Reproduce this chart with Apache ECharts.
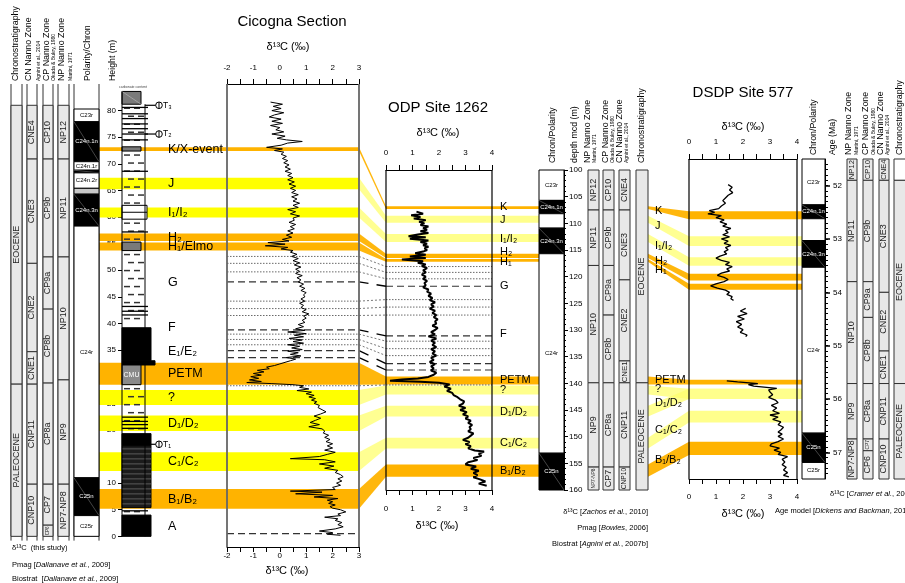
<!DOCTYPE html>
<html><head><meta charset="utf-8">
<script src="https://cdn.jsdelivr.net/npm/echarts@6/dist/echarts.min.js"></script>
<style>html,body{margin:0;padding:0;background:#fff}#c{width:905px;height:583px}</style>
</head><body><div id="c"></div>
<script>
// ================= DATA =================
// correlation events (same order for all sites)
const bandIds  = ['K','J','I','H2','H1','PETM','Q','D','C','B'];
const bandKind = ['major','minor','minor','major','major','major','minor','minor','minor','major'];
const cicBands  = [[72.4,73.1],[65.2,67.4],[59.9,61.8],[55.5,56.9],[53.7,55.2],[28.5,32.6],[24.7,27.5],[19.8,22.7],[12.3,15.8],[5.2,8.9]];
const odpBands  = [[106.8,107.3],[108.6,109.9],[112.0,113.5],[115.7,116.5],[116.7,117.2],[138.7,140.2],[140.4,142.1],[144.2,146.2],[150.2,152.2],[155.2,157.5]];
const dsdpBands = [[52.48,52.63],[52.95,53.13],[53.34,53.5],[53.65,53.78],[53.84,53.95],[55.64,55.73],[55.81,56.0],[55.81,56.0],[56.22,56.44],[56.8,57.05]];

// Cicogna section: height (m) and d13C (permil)
const cicHeight = [81.6,81.2,80.8,80.4,80.0,79.6,79.2,78.8,78.4,78.0,77.6,77.2,76.8,76.4,76.0,75.6,75.2,74.8,74.5,74.2,73.9,73.5,73.1,72.8,72.5,72.2,71.8,71.4,71.0,70.6,70.2,69.8,69.4,69.0,68.6,68.2,67.8,67.4,67.0,66.6,66.2,65.8,65.4,65.0,64.6,64.2,63.8,63.4,63.0,62.6,62.2,61.8,61.4,61.0,60.6,60.2,59.8,59.4,59.0,58.6,58.2,57.8,57.4,57.0,56.6,56.2,55.8,55.5,55.2,54.9,54.6,54.3,54.0,53.7,53.4,53.0,52.6,52.2,51.8,51.4,51.0,50.6,50.2,49.8,49.4,49.0,48.6,48.2,47.8,47.4,47.0,46.6,46.2,45.8,45.4,45.0,44.6,44.2,43.8,43.4,43.0,42.6,42.2,41.8,41.4,41.0,40.6,40.2,39.8,39.4,39.0,38.7,38.4,38.1,37.8,37.5,37.2,36.9,36.6,36.3,36.0,35.7,35.4,35.1,34.8,34.5,34.2,33.9,33.6,33.3,33.0,32.7,32.4,32.1,31.8,31.5,31.2,30.9,30.6,30.3,30.0,29.7,29.4,29.1,28.9,28.7,28.5,28.3,28.0,27.7,27.4,27.1,26.8,26.5,26.2,25.9,25.6,25.3,25.0,24.6,24.2,23.8,23.4,23.0,22.6,22.2,21.8,21.4,21.0,20.6,20.2,19.8,19.4,19.0,18.6,18.2,17.8,17.4,17.0,16.6,16.2,15.8,15.4,15.0,14.6,14.4,14.0,13.6,13.2,12.8,12.4,12.0,11.6,11.2,10.8,10.4,10.0,9.6,9.2,8.8,8.5,8.3,8.0,7.7,7.4,7.1,6.8,6.5,6.2,5.9,5.6,5.3,5.0,4.6,4.2,3.9,3.6,3.3,3.0,2.6,2.2,1.8,1.4,1.0,0.7,0.4,0.2];
const cicD13C = [-0.35,0.1,-0.25,0.05,-0.3,0.15,-0.2,-0.4,0.05,-0.3,0.1,-0.35,0.0,-0.15,0.15,-0.3,0.2,-0.1,0.25,0.85,0.3,0.05,-0.5,0.1,-0.2,0.15,0.05,0.25,0.1,0.3,0.15,0.35,0.2,0.4,0.2,0.45,0.3,0.5,0.3,0.55,0.35,0.6,0.4,0.6,0.45,0.7,0.45,0.65,0.5,0.75,0.5,0.7,0.3,0.6,0.4,0.75,0.5,0.55,0.35,0.6,0.4,0.55,0.3,0.5,0.25,0.45,0.1,0.35,-0.45,0.2,-0.55,0.3,0.05,0.5,0.4,0.65,0.45,0.7,0.5,0.75,0.55,0.8,0.6,0.75,0.6,0.85,0.65,0.8,0.7,0.9,0.75,0.95,0.8,1.0,0.9,0.95,0.8,0.95,0.75,0.9,0.8,1.0,0.85,1.1,0.9,1.0,0.85,0.95,0.7,0.9,0.6,0.95,0.3,1.0,0.55,0.9,0.35,0.85,0.5,0.9,0.3,0.75,0.45,0.85,0.3,0.7,0.4,0.8,0.25,0.6,0.4,0.35,0.0,-0.2,-0.5,-0.4,-0.85,-0.6,-1.0,-0.7,-1.1,-0.8,-1.15,-0.7,-1.25,-0.3,0.5,0.9,0.75,1.1,0.65,1.2,1.0,1.3,1.1,1.35,1.2,1.4,1.3,1.5,1.45,1.6,1.75,1.55,1.3,1.55,1.35,1.15,1.5,1.1,1.6,1.7,1.65,1.85,1.7,1.9,1.75,2.0,1.8,2.0,1.7,2.1,1.8,1.5,0.4,1.7,2.1,1.5,2.05,1.7,2.2,2.1,2.3,2.4,2.2,2.35,2.15,2.3,2.0,2.1,0.4,1.6,0.6,2.0,1.3,2.2,1.8,2.0,1.85,2.1,1.9,2.0,2.3,2.5,2.2,2.3,1.7,2.2,2.1,2.35,2.2,2.4,2.1,1.5,2.0,1.8,2.3];

// ODP Site 1262: depth (mcd) and d13C
const odpDepth = [107.8,108.2,108.5,108.8,109.1,109.4,109.7,110.0,110.3,110.6,110.9,111.2,111.5,111.8,112.1,112.4,112.6,112.9,113.2,113.5,113.8,114.1,114.4,114.7,115.0,115.3,115.6,115.9,116.2,116.5,116.8,117.1,117.4,117.7,118.0,118.4,118.8,119.2,119.6,120.0,120.4,120.8,121.2,121.6,122.0,122.4,122.8,123.2,123.6,124.0,124.4,124.8,125.2,125.6,126.0,126.4,126.8,127.2,127.6,128.0,128.4,128.8,129.2,129.6,130.0,130.4,130.8,131.2,131.6,132.0,132.4,132.8,133.2,133.6,134.0,134.4,134.8,135.2,135.6,136.0,136.4,136.8,137.2,137.6,138.0,138.4,138.8,139.1,139.3,139.5,139.7,139.9,140.2,140.6,141.0,141.4,141.8,142.2,142.6,143.0,143.4,143.8,144.2,144.6,145.0,145.4,145.8,146.2,146.6,147.0,147.4,147.8,148.2,148.6,149.0,149.4,149.8,150.2,150.6,151.0,151.4,151.8,152.2,152.6,152.8,153.2,153.6,154.0,154.4,154.8,155.2,155.6,156.0,156.4,156.8,157.2,157.6,158.0,158.4,158.8,159.2];
const odpD13C = [1.15,1.4,0.95,1.3,1.05,1.5,1.25,1.45,1.3,1.6,1.4,1.55,1.3,1.6,1.2,0.85,1.5,0.9,1.6,1.3,1.55,1.4,1.6,1.45,1.55,1.4,1.1,1.5,0.9,1.5,0.6,1.4,1.2,1.5,1.35,1.55,1.4,1.5,1.35,1.5,1.4,1.55,1.45,1.5,1.4,1.6,1.55,1.7,1.6,1.75,1.65,1.85,1.7,1.8,1.65,1.85,1.75,1.9,1.8,1.95,1.85,1.9,1.75,1.95,1.85,1.7,1.85,1.6,1.9,1.7,1.85,1.75,1.9,1.7,1.85,1.75,1.9,1.7,1.8,1.65,1.85,1.7,1.8,1.7,1.9,1.8,1.6,1.2,0.6,0.15,1.3,2.0,2.4,2.2,2.45,2.3,2.5,2.55,2.7,2.8,2.95,2.9,2.75,3.0,2.8,3.05,2.9,3.1,3.0,3.2,3.1,3.25,3.15,3.2,3.1,3.3,3.2,3.1,2.9,3.15,3.0,3.2,3.1,3.35,3.7,3.5,3.6,3.3,3.45,3.1,3.0,3.4,3.2,3.5,3.3,3.45,3.3,3.55,3.75,3.5,3.8];

// DSDP Site 577: age (Ma) and d13C (null = core gap)
const dsdpAge = [51.98,52.03,52.08,52.13,52.18,52.23,52.28,52.33,52.38,52.43,52.47,52.5,52.53,52.56,52.6,52.64,52.68,52.72,52.76,52.8,52.84,52.88,52.92,52.96,53.0,53.04,53.08,53.12,53.16,53.2,53.24,53.28,53.32,53.36,53.4,53.44,53.48,53.52,53.56,53.6,53.64,53.68,53.72,53.76,53.8,53.84,53.88,53.92,53.96,54.0,54.04,54.08,54.12,54.15,null,54.3,54.35,54.4,54.45,54.5,54.55,54.6,54.65,54.7,54.75,54.8,54.83,null,55.66,55.68,55.71,55.73,55.76,55.8,55.83,55.87,55.92,55.97,56.02,56.07,56.12,56.17,56.22,56.27,56.3,56.34,56.38,56.43,56.48,56.53,56.58,56.62,56.66,56.7,56.75,56.8,56.84,56.88,56.92,56.96,57.0,57.04,57.08,57.13,57.18,57.23,57.28,57.33,57.38,57.43,57.46];
const dsdpD13C = [1.45,1.6,1.5,1.62,1.45,1.35,1.25,1.35,1.2,1.1,0.75,0.95,0.7,1.2,1.0,1.3,1.15,1.4,1.25,1.55,1.35,1.45,1.25,1.5,1.2,1.45,1.3,1.55,1.35,1.45,1.3,1.4,1.15,1.0,1.2,1.5,1.35,1.6,1.4,1.5,1.2,1.05,1.3,1.45,1.3,1.0,0.8,1.05,1.35,1.5,1.4,1.6,1.55,1.65,null,2.1,1.9,2.15,1.8,2.05,1.75,1.95,1.8,2.0,1.9,2.15,2.1,null,1.4,1.8,2.55,2.2,2.4,3.25,2.95,3.0,3.1,2.95,3.2,3.3,3.05,3.25,3.1,3.35,3.0,3.3,3.1,3.4,3.3,3.5,3.4,3.3,3.45,3.3,3.5,3.3,3.05,3.0,3.35,3.15,3.4,3.3,3.65,3.45,3.55,3.45,3.6,3.5,3.65,3.5,3.7];

// stratigraphic zones [name, base/old, top/young]
const cicChrono = [['EOCENE',28.6,81],['PALEOCENE',0,28.6]];
const cicCN = [['CNE4',70.9,81],['CNE3',51.3,70.9],['CNE2',34.7,51.3],['CNE1',28.6,34.7],['CNP11',9.8,28.6],['CNP10',0,9.8]];
const cicCP = [['CP10',70.9,81],['CP9b',52.5,70.9],['CP9a',42.7,52.5],['CP8b',28.8,42.7],['CP8a',9.8,28.8],['CP7',2.1,9.8],['CP6',0,2.1]];
const cicNP = [['NP12',70.9,81],['NP11',52.5,70.9],['NP10',29.4,52.5],['NP9',9.8,29.4],['NP7-NP8',0,9.8]];
// polarity [name, from, to, kind 1=normal 0=reversed 2=uncertain]
const cicPol = [['C23r',77.9,80.3,0],['C24n.1n',70.4,77.9,1],['C24n.1r',68.8,70.4,0],['',68.3,68.8,1],['C24n.2r',65.4,68.3,0],['',64.3,65.4,2],['C24n.3n',58.3,64.3,1],['C24r',11.0,58.3,0],['C25n',3.9,11.0,1],['C25r',0,3.9,0]];
const cicLitho = [[81.2,83.6,'g'],[72.4,73.2,'g'],[53.7,55.3,'g'],[59.6,62.2,'l'],[33.0,39.2,'k'],[32.2,33.0,'kw'],[28.5,32.2,'c'],[17.0,19.3,'k'],[5.4,17.0,'d'],[0,4.0,'k']];
const cicMarl = [[73.2,81.2],[62.2,72.4],[55.3,59.6],[39.2,53.7],[19.3,28.5],[4.0,5.4]];
const cicBeds = [80.6,79.4,78.5,77.5,76.6,75.6,74.5,68.6,57.2,43.2,42.3,41.6,22.4,21.6,21.0,20.3,4.8];
const cicMarkers = [['T₃',81.0],['T₂',75.6],['T₁',17.3]];
const cicLineH = [52.6,51.3,49.7,47.8,44.2,42.8,41.5,38.8,38.0,37.0,36.0,34.9,33.6,28.3,0.5];
const cicLineKind = ['dot','dot','dot','dash','dot','dot','dot','dash','dot','dot','dot','dash','dash','dot','dash'];
const cicHeightTicks = [0,5,10,15,20,25,30,35,40,45,50,55,60,65,70,75,80];
const cicLabelText = ['K/X-event','J','I₁/I₂','H₂','H₁/Elmo','G','F','E₁/E₂','PETM','?','D₁/D₂','C₁/C₂','B₁/B₂','A'];
const cicLabelH = [72.75,66.3,60.9,56.2,54.45,47.7,39.3,34.8,30.6,26.1,21.2,14.0,7.0,1.8];

const odpChrono = [['EOCENE',100,139.9],['PALEOCENE',139.9,160]];
const odpNP = [['NP12',100,107.5],['NP11',107.5,117.9],['NP10',117.9,139.9],['NP9',139.9,155.7],['NP7-NP8',155.7,160]];
const odpCP = [['CP10',100,107.5],['CP9b',107.5,117.9],['CP9a',117.9,127.2],['CP8b',127.2,139.9],['CP8a',139.9,155.7],['CP7',155.7,160]];
const odpCN = [['CNE4',100,107.5],['CNE3',107.5,120.6],['CNE2',120.6,135.8],['CNE1',135.8,139.9],['CNP11',139.9,155.7],['CNP10',155.7,160]];
const odpPol = [['C23r',100,105.7,0],['C24n.1n',105.7,108.2,1],['',108.2,110.9,0],['C24n.3n',110.9,115.7,1],['C24r',115.7,153.1,0],['C25n',153.1,160,1]];
const odpLineD = [118.1,119.2,120.4,121.8,124.3,125.7,127.2,131.1,132.1,133.5,134.8,136.3,137.5,140.3];
const odpLineKind = ['dot','dot','dot','dash','dot','dot','dot','dash','dot','dot','dot','dash','dash','dot'];
const odpLabelText = ['K','J','I₁/I₂','H₂','H₁','G','F','PETM','?','D₁/D₂','C₁/C₂','B₁/B₂'];
const odpLabelD = [106.9,109.4,113.0,115.4,117.3,121.7,130.8,139.4,141.3,145.3,151.2,156.4];

const dsdpChrono = [['',51.5,51.9],['EOCENE',51.9,55.71],['PALEOCENE',55.71,57.5]];
const dsdpNP = [['NP12',51.5,51.9],['NP11',51.9,53.8],['NP10',53.8,55.71],['NP9',55.71,56.75],['NP7-NP8',56.75,57.5]];
const dsdpCP = [['CP10',51.5,51.9],['CP9b',51.9,53.8],['CP9a',53.8,54.47],['CP8b',54.47,55.71],['CP8a',55.71,56.75],['CP7',56.75,56.97],['CP6',56.97,57.5]];
const dsdpCN = [['CNE4',51.5,51.9],['CNE3',51.9,54.0],['CNE2',54.0,55.1],['CNE1',55.1,55.71],['CNP11',55.71,56.75],['CNP10',56.75,57.5]];
const dsdpPol = [['C23r',51.5,52.36,0],['C24n.1n',52.36,52.62,1],['',52.62,53.03,0],['C24n.3n',53.03,53.53,1],['C24r',53.53,56.64,0],['C25n',56.64,57.19,1],['C25r',57.19,57.5,0]];
const dsdpAgeTicks = [52,53,54,55,56,57];
const dsdpLabelText = ['K','J','I₁/I₂','H₂','H₁','PETM','?','D₁/D₂','C₁/C₂','B₁/B₂'];
const dsdpLabelA = [52.47,52.76,53.14,53.41,53.59,55.65,55.81,56.08,56.59,57.15];

// ================= LAYOUT / STYLE =================
const FONT = '"Liberation Sans", Arial, Helvetica, sans-serif';
const ORANGE = '#ffb300', YEL = '#ffff00', PALE = '#ffff8c';
const L = {
  cic:  {chrono:[11,22], cn:[27,37], cp:[43,53], np:[58,69], pol:[74,99], litho:[122,145], band:[99,359], plot:[227,359], label:168},
  odp:  {plot:[386,492], band:[386,539], pol:[539,564], np:[588,599], cp:[603,614], cn:[619,630], chrono:[636,648], label:500},
  dsdp: {plot:[689,797], band:[689,802], pol:[802,825], np:[847,857], cp:[863,873], cn:[879,889], chrono:[894,906], label:655}
};

function ln(x1,y1,x2,y2,stroke,w,dash){return {type:'line',shape:{x1,y1,x2,y2},style:{stroke,lineWidth:w,lineDash:dash||null}};}
function tx(x,y,text,size,o){o=o||{};return {type:'text',x,y,rotation:o.rot||0,style:{text,fill:o.color||'#000',font:(o.italic?'italic ':'')+size+'px '+FONT,align:o.align||'left',verticalAlign:o.va||'middle',textAlign:o.align||'left',textVerticalAlign:o.va||'middle'}};}

function zoneEls(api, zones, xr, base){
  const E=[];
  zones.forEach(([name,a,b])=>{
    const p0=api.coord([xr[0],a]), p1=api.coord([xr[1],b]);
    const x=p0[0], w=p1[0]-p0[0], y=Math.min(p0[1],p1[1]), h=Math.abs(p1[1]-p0[1]);
    E.push({type:'rect',shape:{x,y,width:w,height:h},style:{fill:name?'#e8e8e8':'#fff',stroke:'#333',lineWidth:1}});
    if(name){
      const fs=Math.max(4.5,Math.min(base,(h-3)/(name.length*0.6)));
      E.push(tx(x+w/2,y+h/2,name,fs,{rot:Math.PI/2,align:'center',color:'#222'}));
    }
  });
  return E;
}
function polEls(api, pols, xr, fs){
  const E=[];
  pols.forEach(([name,a,b,k])=>{
    const p0=api.coord([xr[0],a]), p1=api.coord([xr[1],b]);
    const x=p0[0], w=p1[0]-p0[0], y=Math.min(p0[1],p1[1]), h=Math.abs(p1[1]-p0[1]);
    E.push({type:'rect',shape:{x,y,width:w,height:h},style:{fill:k===1?'#000':k===2?'#c8c8c8':'#fff',stroke:'#000',lineWidth:1}});
    if(k===1) E.push(ln(x,y,x+w,y+h,'#888',0.5));
    if(name) E.push(tx(x+w/2,y+h/2,name,fs,{align:'center',color:k===1?'#fff':'#000'}));
  });
  return E;
}
function bandEls(api, bands, xr, colMinor){
  return bands.map((b,i)=>{
    const p0=api.coord([xr[0],b[0]]), p1=api.coord([xr[1],b[1]]);
    return {type:'rect',shape:{x:p0[0],y:Math.min(p0[1],p1[1]),width:p1[0]-p0[0],height:Math.abs(p1[1]-p0[1])},style:{fill:bandKind[i]==='major'?ORANGE:colMinor}};
  });
}
function lithoEls(api){
  const E=[]; const x0=api.coord([L.cic.litho[0],0])[0];
  const Y=v=>api.coord([0,v])[1];
  cicMarl.forEach(([a,b])=>{
    const ya=Y(a), yb=Y(b); let r=0;
    for(let y=yb+4;y<ya-2;y+=8,r++){const o=r%2?4:0;E.push(ln(x0+2+o,y,x0+8+o,y,'#333',1.5));E.push(ln(x0+12+o,y,x0+18+o,y,'#333',1.5));}
  });
  const W={g:19,l:25,k:29,kw:33,c:19,d:29};
  cicLitho.forEach(([a,b,t])=>{
    const ya=Y(a), yb=Y(b), h=ya-yb;
    const fill={g:'#7a7a7a',l:'#fff',k:'#000',kw:'#000',c:'#8a8a8a',d:'#1c1c1c'}[t];
    E.push({type:'rect',shape:{x:x0,y:yb,width:W[t],height:h},style:{fill,stroke:'#000',lineWidth:1}});
    if(t==='d'){for(let y=yb+3;y<ya;y+=5)E.push(ln(x0,y,x0+W[t],y,'#5a5a5a',1));}
    if(t==='l'){E.push(ln(x0,yb+h/2,x0+W[t],yb+h/2,'#000',1));}
    if(t==='c')E.push(tx(x0+W[t]/2,yb+h/2,'CMU',7,{align:'center',color:'#fff'}));
    if(t==='g'&&a>80)E.push(ln(x0,yb,x0+W[t],ya,'#bbb',0.6));
  });
  cicBeds.forEach(h=>E.push(ln(x0,Y(h),x0+26,Y(h),'#000',1.3)));
  E.push(ln(x0,Y(83.6),x0,Y(0),'#000',1));
  E.push(ln(x0+23,Y(81.2),x0+23,Y(0),'#000',1));
  E.push(tx(x0+11,Y(85)+3,'carbonate content',3.5,{align:'center',color:'#444'}));
  cicMarkers.forEach(([t,h])=>{
    const y=Y(h);
    E.push(ln(x0+23,y,x0+34,y,'#000',1.2));
    E.push({type:'circle',shape:{cx:x0+37,cy:y,r:3.3},style:{fill:'#fff',stroke:'#000',lineWidth:1}});
    E.push(ln(x0+37,y-3.3,x0+37,y+3.3,'#000',1));
    E.push(tx(x0+41,y,t,8.5));
  });
  return E;
}
function cicCols(api){
  const C=L.cic, E=[]; const Y=v=>api.coord([0,v])[1], X=x=>api.coord([x,0])[0];
  [C.chrono,C.cn,C.cp,C.np,C.pol].forEach(r=>r.forEach(x=>E.push(ln(X(x),Y(85),X(x),Y(-0.8),'#333',1))));
  E.push(...zoneEls(api,cicChrono,C.chrono,9), ...zoneEls(api,cicCN,C.cn,9), ...zoneEls(api,cicCP,C.cp,9), ...zoneEls(api,cicNP,C.np,9));
  E.push(...polEls(api,cicPol,C.pol,6));
  E.push(...lithoEls(api));
  cicLineH.forEach((h,i)=>{const d=cicLineKind[i]==='dash';E.push(ln(X(C.plot[0]),Y(h),X(C.plot[1]),Y(h),d?'#333':'#444',d?1.2:0.8,d?[7,4]:[1.5,1.5]));});
  E.push(ln(X(C.plot[0]),Y(85),X(C.plot[0]),Y(-2),'#666',1.8));
  E.push(ln(X(C.plot[1]),Y(85),X(C.plot[1]),Y(-2),'#666',1.8));
  cicLabelText.forEach((t,i)=>E.push(tx(X(C.label),Y(cicLabelH[i]),t,12.5)));
  return E;
}
function siteCols(api, S, zones, pol, lines, kinds, labels, labelV, top, bot, lfs){
  const E=[]; const Y=v=>api.coord([0,v])[1], X=x=>api.coord([x,0])[0];
  E.push(...zoneEls(api,zones[0],S.np,9), ...zoneEls(api,zones[1],S.cp,9), ...zoneEls(api,zones[2],S.cn,9), ...zoneEls(api,zones[3],S.chrono,9));
  E.push(...polEls(api,pol,S.pol,6));
  (lines||[]).forEach((v,i)=>{const d=kinds[i]==='dash';E.push(ln(X(S.plot[0]),Y(v),X(S.plot[1]),Y(v),d?'#333':'#444',d?1.2:0.8,d?[7,4]:[1.5,1.5]));});
  E.push(ln(X(S.plot[0]),Y(top),X(S.plot[0]),Y(bot),'#000',1.2));
  E.push(ln(X(S.plot[1]),Y(top),X(S.plot[1]),Y(bot),'#000',1.2));
  labels.forEach((t,i)=>E.push(tx(X(S.label),Y(labelV[i]),t,lfs)));
  return E;
}
function custom(ax, z, fn, y0){
  return {type:'custom',coordinateSystem:'cartesian2d',xAxisIndex:ax[0],yAxisIndex:ax[1],data:[[0,y0]],clip:false,silent:true,z,
    renderItem:(p,api)=>({type:'group',children:fn(api)})};
}
const plotAxis=(gi,pos,min,max,m)=>({gridIndex:gi,type:'value',position:pos,min,max,interval:0.5,
  axisLine:{show:true,onZero:false,lineStyle:{color:'#000',width:1}},axisTick:{show:true,length:5,lineStyle:{color:'#000'}},
  axisLabel:{margin:m,fontSize:8,color:'#000',fontFamily:FONT,formatter:v=>Number.isInteger(v)?String(v):''},splitLine:{show:false}});
const hid=(gi,min,max,inv)=>({gridIndex:gi,type:'value',min,max,inverse:!!inv,show:false,splitLine:{show:false}});
const G=(o)=>Object.assign({containLabel:false,outerBoundsMode:'none'},o);

const chart=echarts.init(document.getElementById('c'));
const option={
  animation:false,
  grid:[
    G({left:0,right:0,top:84,bottom:36}),
    G({left:227,width:132,top:84,bottom:36}),
    G({left:122,width:23,top:84,bottom:36}),
    G({left:0,right:0,top:170,bottom:93}),
    G({left:386,width:106,top:170,bottom:93}),
    G({left:540,width:24,top:170,bottom:93}),
    G({left:0,right:0,top:159,bottom:104}),
    G({left:689,width:108,top:159,bottom:104}),
    G({left:802,width:23,top:159,bottom:104})
  ],
  xAxis:[
    hid(0,0,905), plotAxis(1,'top',-2,3,12), plotAxis(1,'bottom',-2,3,5), hid(2,0,1),
    hid(3,0,905), plotAxis(4,'top',0,4,13), plotAxis(4,'bottom',0,4,15), hid(5,0,1),
    hid(6,0,905), plotAxis(7,'top',0,4,13), plotAxis(7,'bottom',0,4,14), hid(8,0,1)
  ],
  yAxis:[
    hid(0,-2,85), hid(1,-2,85),
    {gridIndex:2,type:'value',position:'left',min:-2,max:85,axisLine:{show:false,onZero:false},
      axisTick:{show:true,customValues:cicHeightTicks,length:4,lineStyle:{color:'#000'}},
      axisLabel:{customValues:cicHeightTicks,fontSize:8,color:'#000',fontFamily:FONT,margin:6},splitLine:{show:false}},
    hid(3,100,160,true), hid(4,100,160,true),
    {gridIndex:5,type:'value',position:'right',inverse:true,min:100,max:160,interval:5,
      axisLine:{show:true,onZero:false,lineStyle:{color:'#000'}},axisTick:{show:true,length:4,lineStyle:{color:'#000'}},
      minorTick:{show:true,splitNumber:5,length:2,lineStyle:{color:'#000'}},
      axisLabel:{fontSize:8,color:'#000',fontFamily:FONT,margin:5},splitLine:{show:false},minorSplitLine:{show:false}},
    hid(6,51.5,57.5,true), hid(7,51.5,57.5,true),
    {gridIndex:8,type:'value',position:'right',inverse:true,min:51.5,max:57.5,
      axisLine:{show:true,onZero:false,lineStyle:{color:'#000'}},axisTick:{show:true,customValues:dsdpAgeTicks,length:5,lineStyle:{color:'#000',width:1.5}},
      axisLabel:{customValues:dsdpAgeTicks,fontSize:8,color:'#000',fontFamily:FONT,margin:8},splitLine:{show:false}},
    {gridIndex:8,type:'value',position:'right',inverse:true,min:51.5,max:57.5,axisLine:{show:false,onZero:false},
      axisTick:{show:true,customValues:Array.from({length:59},(_,i)=>+(51.6+i*0.1).toFixed(1)),length:3,lineStyle:{color:'#000'}},
      axisLabel:{show:false},splitLine:{show:false}}
  ],
  series:[
    custom([0,0],1,api=>bandEls(api,cicBands,L.cic.band,YEL),0),
    custom([0,0],3,cicCols,0),
    {type:'line',xAxisIndex:1,yAxisIndex:1,z:5,silent:true,showSymbol:false,
      data:cicHeight.map((h,i)=>[cicD13C[i],h]),lineStyle:{color:'#000',width:1}},
    custom([4,3],1,api=>bandEls(api,odpBands,L.odp.band,PALE),100),
    custom([4,3],3,api=>siteCols(api,L.odp,[odpNP,odpCP,odpCN,odpChrono],odpPol,odpLineD,odpLineKind,odpLabelText,odpLabelD,100,160,11),100),
    {type:'line',xAxisIndex:5,yAxisIndex:4,z:5,silent:true,showSymbol:false,
      data:odpDepth.map((d,i)=>[odpD13C[i],d]),lineStyle:{color:'#000',width:2}},
    custom([8,6],1,api=>bandEls(api,dsdpBands,L.dsdp.band,PALE),52),
    custom([8,6],3,api=>siteCols(api,L.dsdp,[dsdpNP,dsdpCP,dsdpCN,dsdpChrono],dsdpPol,null,null,dsdpLabelText,dsdpLabelA,51.5,57.5,11),52),
    {type:'line',xAxisIndex:9,yAxisIndex:7,z:5,silent:true,showSymbol:false,connectNulls:false,
      data:dsdpAge.map((a,i)=>a===null?['-','-']:[dsdpD13C[i],a]),lineStyle:{color:'#000',width:1.3}}
  ]
};
chart.setOption(option);

// ---------- graphic: titles, headers, sources, correlation connectors ----------
const gfx=[];
function gtext(x,y,text,size,o){o=o||{};const e={type:'text',x,y,rotation:o.rot||0,silent:true,z:10,
  style:{text,fill:'#000',font:(o.bold?'bold ':'')+size+'px '+FONT,textAlign:o.align||'left',textVerticalAlign:o.va||'middle',align:o.align||'left',verticalAlign:o.va||'middle'}};
  if(o.rich){e.style.rich={i:{fontStyle:'italic',fontSize:size,fontFamily:FONT,fill:'#000'}};}
  return e;}
gfx.push(gtext(292,22,'Cicogna Section',15,{align:'center'}));
gfx.push(gtext(438,108,'ODP Site 1262',15,{align:'center'}));
gfx.push(gtext(743,93,'DSDP Site 577',15,{align:'center'}));
[[288,47],[287,571],[438,133],[437,526],[743,127],[743,514]].forEach(([x,y])=>gfx.push(gtext(x,y,'δ¹³C (‰)',11,{align:'center'})));
const headers=[
 ['Chronostratigraphy',16,81,8.8],['CN Nanno Zone',29,81,8.8],['Agnini et al., 2014',38.5,81,5],['CP Nanno Zone',46.5,81,8.8],
 ['Okada & Bukry, 1980',54,81,5],['NP Nanno Zone',62,81,8.8],['Martini, 1971',71,81,5],['Polarity/Chron',87.5,81,8.8],['Height (m)',113,81,8.8],
 ['Chron/Polarity',553,163,8.8],['depth mcd (m)',575,163,8.8],['NP Nanno Zone',588,163,8.8],['Martini, 1971',595,163,5],
 ['CP Nanno Zone',606,163,8.8],['Okada & Bukry, 1980',613,163,5],['CN Nanno Zone',620,163,8.8],['Agnini et al., 2014',627,163,5],['Chronostratigraphy',642,163,8.8],
 ['Chron/Polarity',814,155,8.8],['Age (Ma)',833,155,8.8],['NP Nanno Zone',849,155,8.8],['Martini, 1971',857,155,5],
 ['CP Nanno Zone',866,155,8.8],['Okada & Bukry, 1980',874,155,5],['CN Nanno Zone',881,155,8.8],['Agnini et al., 2014',888,155,5],['Chronostratigraphy',900,155,8.8]
];
headers.forEach(([t,x,y,s])=>gfx.push(gtext(x,y,t,s,{rot:Math.PI/2})));
gfx.push(gtext(12,548,'δ¹³C  (this study)',7.5));
gfx.push(gtext(12,565,'Pmag [{i|Dallanave et al.}, 2009]',7.5,{rich:1}));
gfx.push(gtext(12,579,'Biostrat  [{i|Dallanave et al.}, 2009]',7.5,{rich:1}));
gfx.push(gtext(648,512,'δ¹³C [{i|Zachos et al.}, 2010]',7.5,{rich:1,align:'right'}));
gfx.push(gtext(648,528,'Pmag [{i|Bowles}, 2006]',7.5,{rich:1,align:'right'}));
gfx.push(gtext(648,544,'Biostrat [{i|Agnini et al.}, 2007b]',7.5,{rich:1,align:'right'}));
gfx.push(gtext(830,494,'δ¹³C [{i|Cramer et al.}, 2003]',7.5,{rich:1}));
gfx.push(gtext(775,511,'Age model [{i|Dickens and Backman}, 2013]',7.5,{rich:1}));

const px=(gi,x,v)=>chart.convertToPixel({gridIndex:gi},[x,v]);
bandIds.forEach((id,i)=>{
  const major=bandKind[i]==='major';
  const col=major?'rgba(255,179,0,0.95)':'rgba(255,255,110,0.75)';
  const a0=px(0,L.cic.plot[1],cicBands[i][1]), a1=px(0,L.cic.plot[1],cicBands[i][0]);
  const b0=px(3,L.odp.plot[0],odpBands[i][0]), b1=px(3,L.odp.plot[0],odpBands[i][1]);
  gfx.push({type:'polygon',silent:true,z:1,shape:{points:[a0,b0,b1,a1]},style:{fill:col}});
  const c0=px(3,L.odp.chrono[1],odpBands[i][0]), c1=px(3,L.odp.chrono[1],odpBands[i][1]);
  const d0=px(6,L.dsdp.plot[0],dsdpBands[i][0]), d1=px(6,L.dsdp.plot[0],dsdpBands[i][1]);
  gfx.push({type:'polygon',silent:true,z:1,shape:{points:[c0,d0,d1,c1]},style:{fill:col}});
});
odpLineD.forEach((d,i)=>{
  const p=px(0,L.cic.plot[1],cicLineH[i]), q=px(3,L.odp.plot[0],d);
  if(cicLineKind[i]==='dash'){
    const f=t=>[p[0]+(q[0]-p[0])*t,p[1]+(q[1]-p[1])*t];
    gfx.push({type:'line',silent:true,z:2,shape:{x1:p[0],y1:p[1],x2:f(0.35)[0],y2:f(0.35)[1]},style:{stroke:'#000',lineWidth:1.3}});
    gfx.push({type:'line',silent:true,z:2,shape:{x1:f(0.65)[0],y1:f(0.65)[1],x2:q[0],y2:q[1]},style:{stroke:'#000',lineWidth:1.3}});
  } else {
    gfx.push({type:'line',silent:true,z:2,shape:{x1:p[0],y1:p[1],x2:q[0],y2:q[1]},style:{stroke:'#555',lineWidth:0.8,lineDash:[2,2]}});
  }
});
chart.setOption({graphic:{elements:gfx}});
</script></body></html>
